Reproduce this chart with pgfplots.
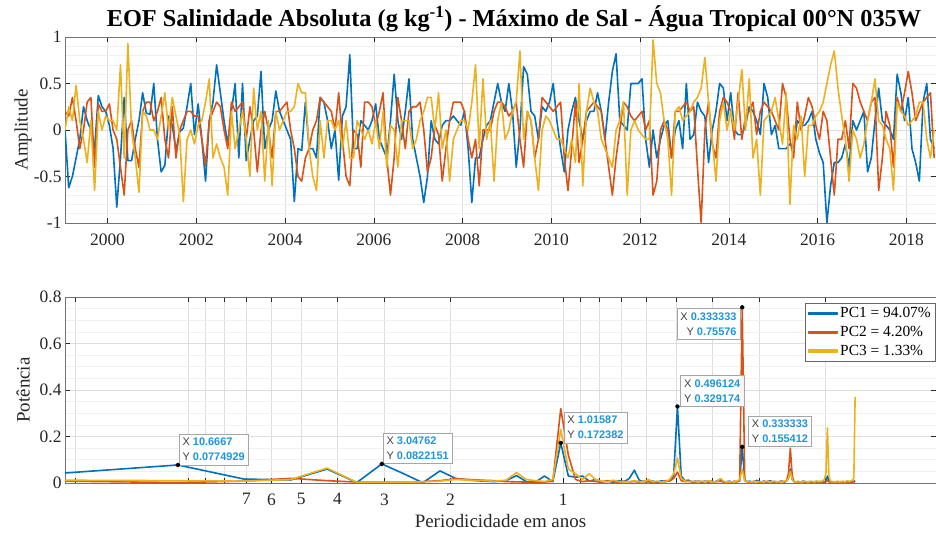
\documentclass[border=0pt]{standalone}
\usepackage{fontspec}
\setmainfont{Liberation Serif}
\newfontfamily\tipfont{Liberation Sans}
\usepackage{pgfplots}
\usepackage{pgfplotstable}
\pgfplotsset{compat=1.18}
\definecolor{c1}{rgb}{0,0.447,0.741}
\definecolor{c2}{rgb}{0.85,0.325,0.098}
\definecolor{c3}{rgb}{0.929,0.694,0.125}
\definecolor{tipblue}{HTML}{1C97D9}
\definecolor{tipgray}{HTML}{404040}
\definecolor{axgray}{HTML}{262626}

\pgfplotstableread{
b o y
0.0 0.2 0.0
-0.62 0.15 0.25
-0.5 0.35 0.1
-0.3 0.1 0.48
-0.1 -0.2 0.1
0.25 0.0 -0.1
0.1 0.3 -0.35
0.0 0.35 0.1
-0.2 -0.4 -0.65
0.37 0.28 0.2
0.25 0.2 0.0
0.2 0.2 0.15
0.05 0.28 0.1
-0.2 0.0 0.1
-0.83 -0.1 0.0
-0.3 -0.4 0.7
0.35 -0.7 -0.3
-0.33 0.0 0.93
-0.33 0.1 0.0
-0.1 -0.2 -0.3
0.1 -0.4 -0.67
0.4 0.2 0.2
0.18 0.3 0.15
0.17 0.3 0.0
0.5 0.1 0.0
-0.1 0.2 -0.1
-0.45 0.35 0.15
-0.38 -0.1 0.4
0.15 -0.3 0.0
0.05 0.25 0.35
-0.22 -0.3 0.15
-0.02 0.0 -0.05
0.02 0.1 -0.77
0.25 0.2 -0.1
0.5 0.2 0.0
-0.05 0.15 -0.15
0.28 0.15 0.05
-0.1 -0.1 0.1
-0.55 -0.38 0.3
0.1 0.1 0.55
0.3 0.2 -0.3
0.7 0.3 -0.15
0.4 0.25 -0.3
0.1 0.0 -0.4
-0.15 -0.2 -0.7
0.2 0.3 0.2
0.5 0.2 -0.2
-0.3 0.25 0.0
0.5 0.3 0.2
-0.33 -0.1 -0.1
-0.1 0.25 -0.5
0.1 0.0 0.45
0.15 -0.45 0.0
0.63 0.0 0.2
-0.2 0.2 -0.55
0.0 0.0 0.1
0.1 -0.3 -0.6
0.42 0.2 0.2
0.2 0.2 0.0
0.1 0.25 0.1
0.0 0.3 0.2
-0.1 0.0 0.2
-0.77 -0.2 0.25
-0.2 -0.5 0.5
-0.22 -0.55 0.4
0.3 -0.3 0.4
-0.2 -0.2 -0.2
-0.2 0.0 -0.5
-0.3 0.1 -0.65
0.35 0.35 0.1
0.3 0.3 -0.3
0.1 0.25 0.1
-0.2 0.2 0.1
0.0 0.0 0.0
-0.54 0.4 0.1
0.15 -0.1 -0.2
0.25 -0.5 0.1
0.81 -0.6 -0.3
-0.2 0.0 -0.3
-0.2 -0.05 0.1
0.1 -0.4 0.0
0.05 0.3 -0.1
0.0 0.3 0.0
0.1 0.25 -0.15
0.28 0.05 0.1
-0.1 0.2 -0.2
-0.2 0.4 0.2
-0.3 -0.3 -0.4
0.1 -0.7 0.05
0.6 -0.3 0.0
0.1 0.35 -0.4
-0.1 0.1 0.1
0.2 -0.2 0.1
0.55 0.2 0.1
-0.1 0.25 -0.2
-0.3 0.25 -0.1
-0.5 0.3 0.1
-0.78 0.0 0.2
-0.5 -0.45 0.35
0.1 -0.3 0.35
-0.1 0.05 0.0
-0.15 -0.05 0.4
0.05 -0.55 -0.2
0.1 -0.2 0.0
0.1 0.1 -0.55
0.15 0.3 -0.1
0.1 0.3 0.0
0.05 0.3 0.1
0.2 0.2 0.1
-0.2 -0.1 0.0
-0.78 -0.3 0.3
-0.3 -0.1 0.7
-0.3 -0.6 -0.2
-0.1 0.0 0.55
0.05 0.0 -0.1
0.1 0.0 0.1
0.3 0.2 -0.55
0.5 0.3 0.1
0.3 0.3 0.3
0.2 0.25 -0.1
0.5 0.15 0.0
0.2 0.2 0.2
-0.4 0.3 0.3
0.0 -0.1 0.85
0.68 -0.4 -0.1
0.6 0.2 0.2
0.2 0.1 0.1
0.15 -0.3 -0.3
-0.1 -0.1 -0.65
0.25 0.35 0.0
0.2 0.3 0.15
0.3 0.25 0.1
0.5 0.2 0.0
0.1 0.25 -0.1
-0.2 0.3 -0.1
-0.45 -0.3 -0.2
0.0 -0.65 -0.3
0.2 -0.2 -0.1
0.35 0.3 -0.35
0.1 -0.35 0.5
-0.1 -0.1 -0.6
0.1 0.2 0.2
0.2 0.25 0.45
0.2 0.3 0.3
0.4 0.25 0.2
0.2 0.2 -0.1
-0.1 -0.1 -0.2
0.3 -0.4 -0.3
0.63 -0.7 -0.4
0.82 -0.3 0.0
0.1 0.0 0.1
0.05 0.3 0.3
0.0 0.25 -0.7
0.5 0.15 0.0
0.5 0.1 0.1
0.5 0.15 0.0
0.55 0.2 -0.05
-0.1 0.0 -0.1
-0.4 0.1 -0.1
0.0 -0.7 0.97
-0.3 -0.55 0.5
-0.1 0.0 0.4
0.05 0.1 0.1
0.1 0.0 -0.1
-0.3 -0.3 -0.7
0.0 0.2 0.2
0.1 0.2 0.25
-0.2 0.25 0.1
0.5 0.3 0.15
-0.1 0.2 0.2
-0.05 0.25 0.3
0.3 -0.4 0.35
0.2 -1.0 0.45
0.15 0.0 0.78
-0.35 0.3 0.3
0.0 -0.15 -0.1
0.2 -0.3 -0.55
0.5 0.2 0.1
0.45 0.35 0.3
0.1 0.3 0.0
0.4 0.2 0.2
0.0 -0.1 0.0
-0.05 0.4 0.3
-0.05 -0.1 0.65
0.05 0.15 0.0
0.25 0.2 0.55
0.2 0.3 -0.3
0.1 -0.05 -0.1
-0.05 0.2 -0.7
0.5 0.3 0.1
0.35 0.25 0.15
-0.05 0.2 0.2
0.05 0.1 0.35
-0.2 0.0 0.1
-0.2 0.5 -0.15
-0.2 0.35 0.4
-0.15 -0.1 -0.8
-0.2 -0.3 0.05
0.1 0.3 -0.1
0.05 0.0 0.15
0.05 0.15 -0.5
0.1 0.35 0.05
0.2 0.25 0.05
-0.1 0.05 0.15
-0.25 -0.1 0.2
-0.35 0.2 0.3
-1.0 0.1 0.5
-0.6 -0.3 0.7
-0.35 -0.7 0.85
-0.35 -0.1 0.45
-0.3 -0.1 0.15
-0.15 0.1 -0.1
-0.4 -0.2 -0.55
0.1 0.5 0.0
0.0 0.45 -0.1
0.1 0.3 -0.3
0.2 0.2 -0.15
-0.45 0.1 0.1
-0.3 0.3 0.3
0.1 0.35 0.55
0.45 -0.65 0.1
0.1 -0.3 0.05
0.05 0.2 -0.1
0.0 0.05 -0.2
-0.1 -0.4 -0.65
0.6 0.35 0.3
0.4 0.2 0.2
0.1 0.4 0.15
0.35 0.63 0.05
-0.2 0.4 0.1
-0.35 0.1 0.15
-0.55 0.2 0.3
0.3 0.3 0.3
0.5 0.35 -0.1
-0.1 0.4 -0.3
-0.2 -0.3 0.0
}\ts

\pgfplotstableread{
k b o y
1 0.043 0.008 0.012
2 0.0775 0.002 0.010
3 0.017 0.008 0.008
4 0.013 0.020 0.015
5 0.060 0.010 0.064
6 0.002 0.004 0.003
7 0.0822 0.003 0.003
8 0.040 0.004 0.004
9 0.001 0.006 0.005
10 0.052 0.010 0.008
11 0.020 0.018 0.015
12 0.012 0.015 0.012
13 0.008 0.012 0.010
14 0.006 0.010 0.008
15 0.010 0.006 0.012
16 0.032 0.005 0.045
17 0.006 0.004 0.015
18 0.004 0.003 0.010
19 0.030 0.004 0.006
20 0.006 0.008 0.015
21 0.172382 0.320 0.230
22 0.030 0.120 0.060
23 0.025 0.015 0.040
24 0.030 0.006 0.015
25 0.008 0.010 0.040
26 0.015 0.006 0.015
27 0.005 0.004 0.008
28 0.008 0.010 0.005
29 0.003 0.005 0.012
30 0.010 0.004 0.006
31 0.005 0.008 0.004
32 0.020 0.005 0.006
33 0.055 0.006 0.010
34 0.012 0.004 0.006
35 0.004 0.008 0.004
36 0.008 0.005 0.015
37 0.008 0.003 0.005
38 0.003 0.006 0.008
39 0.010 0.004 0.004
40 0.005 0.010 0.006
41 0.012 0.008 0.015
42 0.030 0.020 0.040
43 0.329174 0.047 0.107
44 0.030 0.010 0.020
45 0.010 0.006 0.008
46 0.012 0.008 0.005
47 0.004 0.005 0.008
48 0.008 0.004 0.006
49 0.005 0.008 0.004
50 0.004 0.005 0.008
51 0.008 0.006 0.005
52 0.005 0.004 0.010
53 0.006 0.008 0.005
54 0.004 0.005 0.004
55 0.010 0.006 0.008
56 0.015 0.008 0.020
57 0.006 0.004 0.008
58 0.004 0.006 0.004
59 0.008 0.005 0.006
60 0.005 0.004 0.005
61 0.004 0.008 0.004
62 0.006 0.005 0.008
63 0.010 0.010 0.015
64 0.155412 0.75576 0.060
65 0.010 0.012 0.010
66 0.005 0.006 0.005
67 0.008 0.004 0.006
68 0.004 0.005 0.004
69 0.006 0.008 0.008
70 0.012 0.006 0.004
71 0.005 0.004 0.006
72 0.004 0.005 0.005
73 0.008 0.006 0.004
74 0.005 0.004 0.008
75 0.004 0.008 0.005
76 0.010 0.005 0.004
77 0.005 0.004 0.006
78 0.004 0.006 0.008
79 0.006 0.005 0.004
80 0.004 0.004 0.006
81 0.008 0.006 0.005
82 0.005 0.008 0.004
83 0.004 0.005 0.008
84 0.010 0.010 0.010
85 0.020 0.040 0.020
86 0.060 0.150 0.050
87 0.015 0.030 0.015
88 0.006 0.006 0.006
89 0.004 0.004 0.004
90 0.006 0.005 0.008
91 0.005 0.004 0.005
92 0.004 0.006 0.004
93 0.008 0.005 0.006
94 0.005 0.004 0.008
95 0.004 0.005 0.005
96 0.006 0.004 0.004
97 0.004 0.006 0.006
98 0.005 0.004 0.008
99 0.004 0.005 0.005
100 0.006 0.004 0.004
101 0.004 0.006 0.010
102 0.005 0.004 0.005
103 0.004 0.005 0.008
104 0.006 0.004 0.006
105 0.004 0.006 0.010
106 0.005 0.004 0.015
107 0.008 0.006 0.040
108 0.030 0.010 0.237
109 0.010 0.005 0.030
110 0.004 0.004 0.008
111 0.006 0.005 0.005
112 0.004 0.004 0.006
113 0.005 0.006 0.004
114 0.004 0.004 0.005
115 0.006 0.005 0.008
116 0.004 0.004 0.004
117 0.005 0.006 0.006
118 0.004 0.004 0.005
119 0.006 0.005 0.008
120 0.004 0.004 0.004
121 0.005 0.006 0.006
122 0.004 0.004 0.010
123 0.006 0.005 0.008
124 0.004 0.004 0.006
125 0.005 0.006 0.010
126 0.004 0.004 0.012
127 0.006 0.005 0.020
128 0.010 0.008 0.370
}\spec

\pgfplotsset{
  common/.style={
    scale only axis, width=871bp, height=186bp, anchor=south west,
    axis line style={draw=black!55, line width=0.6bp},
    tick style={draw=axgray, line width=0.5bp},
    major tick length=5bp, minor tick length=0pt,
    major grid style={draw=black!13, line width=0.5bp},
    minor grid style={draw=black!6, line width=0.5bp},
    tick label style={font=\fontsize{17.5}{20}\selectfont, text=axgray},
    x tick label style={yshift=-7bp},
    /pgf/number format/assume math mode=true,
    label style={font=\fontsize{19}{22}\selectfont, text=axgray},
    ylabel style={at={(axis description cs:-0.048,0.5)}, anchor=center, rotate=0},
    every axis plot/.append style={line width=1.6bp, line join=round},
  },
}
\tikzset{
  dtip/.style={draw=black!35, fill=white, fill opacity=0.92, text opacity=1,
    font=\tipfont\fontsize{11}{15}\selectfont, inner xsep=3.5bp, inner ysep=4bp, align=left},
}

\begin{document}
\begin{tikzpicture}
\path[use as bounding box] (0bp,0bp) rectangle (936bp,536bp);

\begin{axis}[common, at={(65bp,313bp)},
  xmin=1999.0417, xmax=2018.6667, ymin=-1, ymax=1,
  xtick={2000,2002,...,2018}, ytick={-1,-0.5,0,0.5,1},
  minor x tick num=3, minor y tick num=4,
  grid=both,
  x tick label style={/pgf/number format/1000 sep={}},
  ylabel={Amplitude}]
\addplot[c1] table[x expr={1999.0417+\coordindex/12}, y=b] {\ts};
\addplot[c2] table[x expr={1999.0417+\coordindex/12}, y=o] {\ts};
\addplot[c3] table[x expr={1999.0417+\coordindex/12}, y=y] {\ts};
\end{axis}

\begin{axis}[common, at={(65bp,53bp)},
  xmode=log, x dir=reverse, xmin=0.1014, xmax=21.3333, ymin=0, ymax=0.8,
  xtick={0.2,0.3,0.4,0.5,0.6,0.7,0.8,0.9,1,2,3,4,5,6,7,8,9,10,20},
  xticklabels={,,,,,,,,1,2,3,4,5,6,7,,,,},
  ytick={0,0.2,0.4,0.6,0.8},
  yticklabels={0,0.2,0.4,0.6,0.8},
  minor y tick num=3,
  xmajorgrids, ymajorgrids, yminorgrids,
  ylabel={Potência},
  xlabel={Periodicidade em anos},
  xlabel style={at={(axis description cs:0.5,-0.205)}, anchor=center},
  legend cell align=left,
  legend style={at={(1,1)}, anchor=north east, xshift=-1bp, yshift=-6bp,
    draw=black!60, fill=white, font=\fontsize{15.5}{18}\selectfont,
    inner xsep=2bp, inner ysep=2.5bp, row sep=3bp},
  legend image code/.code={\fill[#1] (0bp,-0.85bp) rectangle (29bp,0.85bp);}]
\addplot[c1] table[x expr={21.33333/\thisrow{k}}, y=b] {\spec};
\addlegendentry{PC1 = 94.07\%}
\addplot[c2] table[x expr={21.33333/\thisrow{k}}, y=o] {\spec};
\addlegendentry{PC2 = 4.20\%}
\addplot[c3] table[x expr={21.33333/\thisrow{k}}, y=y] {\spec};
\addlegendentry{PC3 = 1.33\%}
\addplot[only marks, mark=*, mark size=1.6bp, black, forget plot] coordinates {
 (10.6667,0.0774929) (3.04762,0.0822151) (1.01587,0.172382)
 (0.496124,0.329174) (0.333333,0.75576) (0.333333,0.155412)};
\node[dtip, anchor=south west, xshift=1bp] at (axis cs:10.6667,0.0774929)
 {{\color{tipgray}X} {\bfseries\color{tipblue}10.6667}\\{\color{tipgray}Y} {\bfseries\color{tipblue}0.0774929}};
\node[dtip, anchor=south west, xshift=1bp] at (axis cs:3.04762,0.0822151)
 {{\color{tipgray}X} {\bfseries\color{tipblue}3.04762}\\{\color{tipgray}Y} {\bfseries\color{tipblue}0.0822151}};
\node[dtip, anchor=south west, xshift=3bp] at (axis cs:1.01587,0.172382)
 {{\color{tipgray}X} {\bfseries\color{tipblue}1.01587}\\{\color{tipgray}Y} {\bfseries\color{tipblue}0.172382}};
\node[dtip, anchor=south west, xshift=3bp] at (axis cs:0.496124,0.329174)
 {{\color{tipgray}X} {\bfseries\color{tipblue}0.496124}\\{\color{tipgray}Y} {\bfseries\color{tipblue}0.329174}};
\node[dtip, anchor=north east, align=right, xshift=-2bp, yshift=-1bp] at (axis cs:0.333333,0.75576)
 {{\color{tipgray}X} {\bfseries\color{tipblue}0.333333}\\{\color{tipgray}Y} {\bfseries\color{tipblue}0.75576}};
\node[dtip, anchor=south west, xshift=6bp] at (axis cs:0.333333,0.155412)
 {{\color{tipgray}X} {\bfseries\color{tipblue}0.333333}\\{\color{tipgray}Y} {\bfseries\color{tipblue}0.155412}};
\end{axis}

\node[anchor=base, font=\fontsize{24.4}{28}\selectfont\bfseries, text=black] at (514bp,509bp)
 {EOF Salinidade Absoluta (g kg\textsuperscript{-1}) - Máximo de Sal - Água Tropical 00°N 035W};
\end{tikzpicture}
\end{document}
